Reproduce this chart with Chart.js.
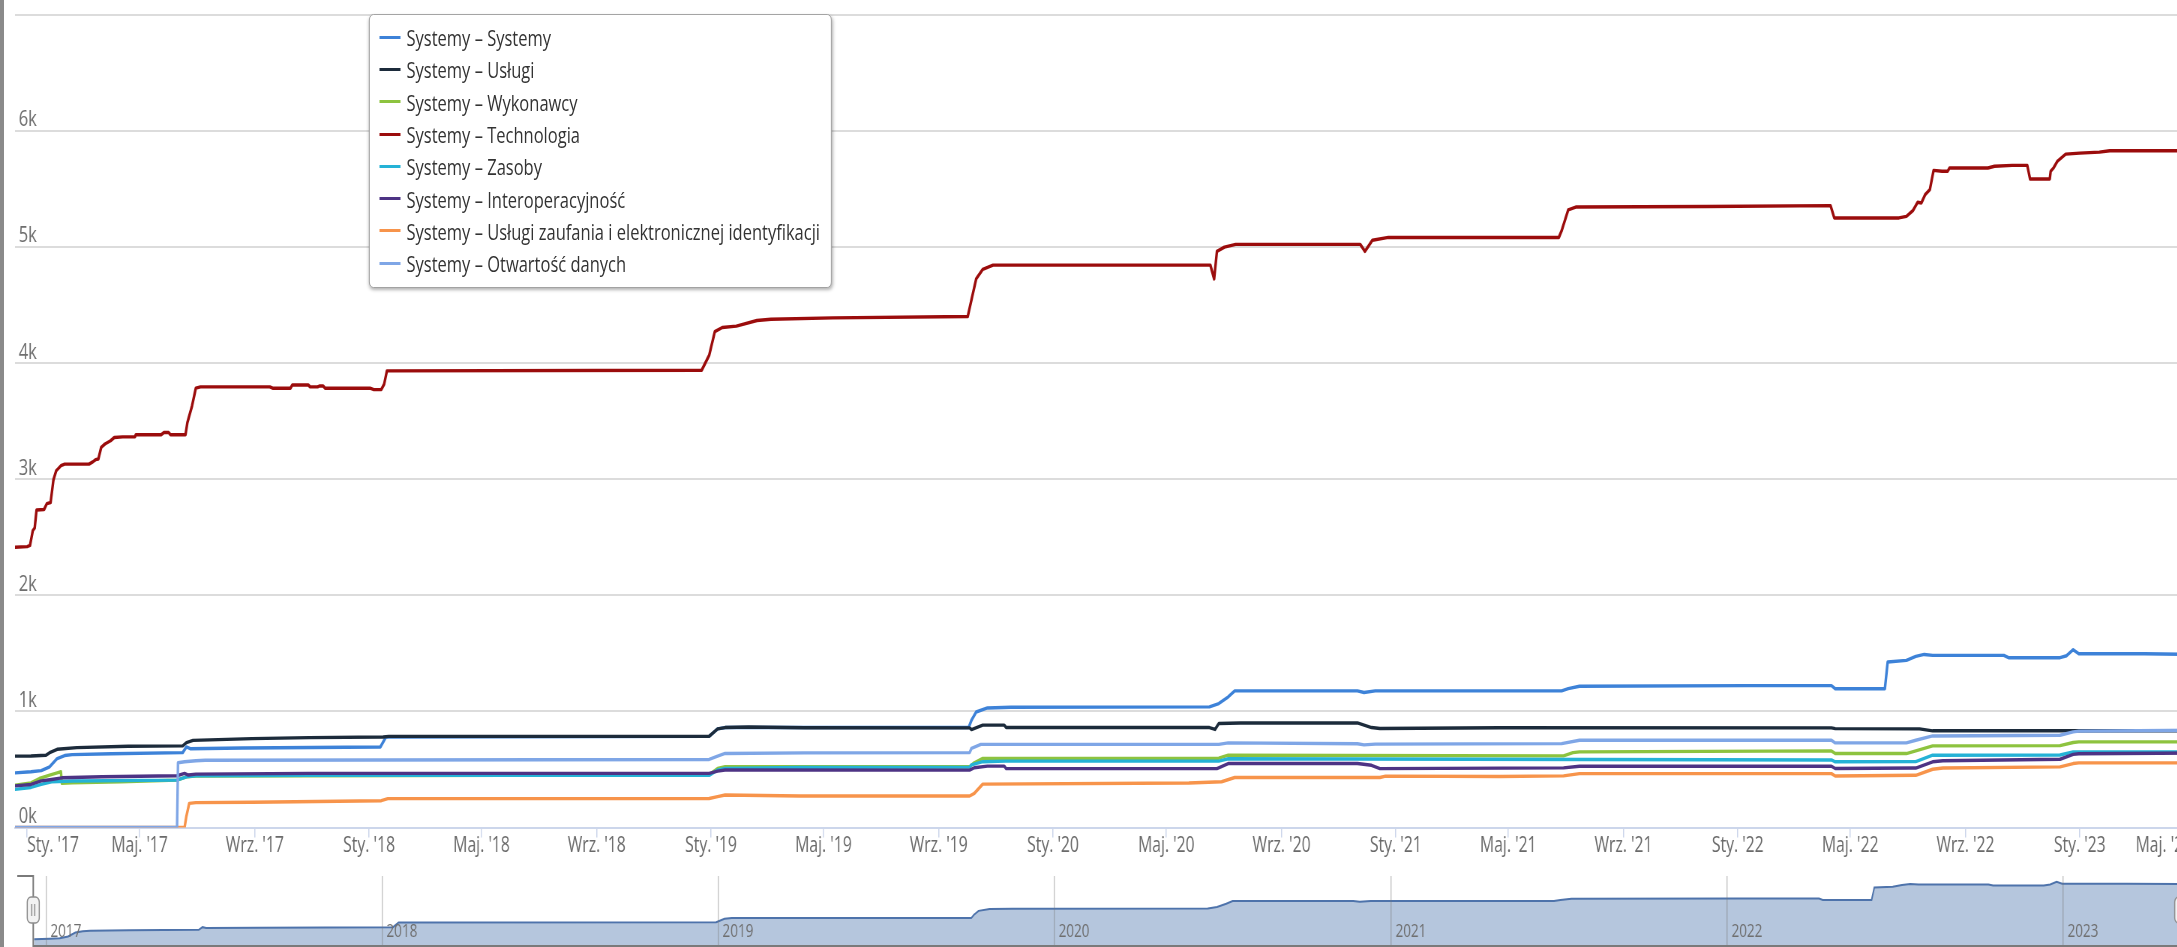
<!DOCTYPE html>
<html lang="pl">
<head>
<meta charset="utf-8">
<title>Systemy</title>
<script src="https://cdn.jsdelivr.net/npm/chart.js@4.4.1/dist/chart.umd.min.js"></script>
<style>
  html, body { margin: 0; padding: 0; background: #fff; overflow: hidden; }
  body { width: 2177px; height: 947px; position: relative; }
  /* the original screenshot is squeezed horizontally, so the whole stage is too */
  #stage { position: absolute; left: 0; top: 0; height: 947px; transform-origin: 0 0; }
  #mainBox { position: absolute; left: 0; top: 0; width: 100%; height: 875px; }
  #navBox { position: absolute; left: 0; top: 875px; width: 100%; height: 72px; }
  #legend {
    position: absolute; left: 492px; top: 14px; width: 617px; height: 274px;
    box-sizing: border-box; padding-top: 6px;
    background: #fff; border: 1px solid #9a9a9a; border-radius: 6px;
    box-shadow: 1px 2px 4px rgba(0, 0, 0, 0.3);
    font: 22px 'Open Sans', 'DejaVu Sans', sans-serif; color: #333;
  }
  #legend .item { height: 32.3px; display: flex; align-items: center; white-space: nowrap; }
  #legend .sym { display: inline-block; width: 28px; height: 3px; margin-left: 13px; margin-right: 8px; }
  #edge { position: absolute; left: 0; top: 0; width: 4px; height: 947px; background: #8a8a8a; }
</style>
</head>
<body>
<div id="stage">
  <div id="mainBox"><canvas id="main"></canvas></div>
  <div id="navBox"><canvas id="nav"></canvas></div>
  <div id="legend"></div>
</div>
<div id="edge"></div>
<script>
const seriesNames = [
  'Systemy – Systemy',
  'Systemy – Usługi',
  'Systemy – Wykonawcy',
  'Systemy – Technologia',
  'Systemy – Zasoby',
  'Systemy – Interoperacyjność',
  'Systemy – Usługi zaufania i elektronicznej identyfikacji',
  'Systemy – Otwartość danych'
];
const seriesColors = ['#3d82d8', '#1c2b3b', '#8dc33f', '#9b0c0c', '#25b2d6', '#4d3384', '#f7944b', '#7fa6e6'];

// [date, value]
const systemy = [
  ['2016-12-19', 471], ['2017-01-05', 480], ['2017-01-16', 490], ['2017-01-25', 523], ['2017-02-02', 594],
  ['2017-02-10', 620], ['2017-02-18', 628], ['2017-04-01', 636], ['2017-06-16', 645], ['2017-06-20', 694],
  ['2017-06-24', 679], ['2017-08-19', 685], ['2018-01-13', 694], ['2018-01-19', 780], ['2018-12-30', 785],
  ['2019-01-08', 850], ['2019-01-16', 861], ['2019-10-03', 861], ['2019-10-06', 924], ['2019-10-11', 995],
  ['2019-10-23', 1030], ['2019-11-17', 1036], ['2020-06-16', 1039], ['2020-06-26', 1068], ['2020-07-06', 1125],
  ['2020-07-13', 1177], ['2020-11-21', 1177], ['2020-11-28', 1163], ['2020-12-10', 1177], ['2021-06-27', 1177],
  ['2021-07-04', 1196], ['2021-07-16', 1217], ['2022-01-11', 1222], ['2022-04-11', 1222], ['2022-04-15', 1196],
  ['2022-06-07', 1196], ['2022-06-10', 1426], ['2022-06-30', 1440], ['2022-07-10', 1474], ['2022-07-19', 1491],
  ['2022-07-28', 1483], ['2022-10-12', 1483], ['2022-10-17', 1463], ['2022-12-11', 1463], ['2022-12-18', 1480],
  ['2022-12-25', 1532], ['2022-12-31', 1497], ['2023-03-11', 1497], ['2023-05-08', 1491]
];
const uslugi = [
  ['2016-12-19', 615], ['2017-01-05', 616], ['2017-01-21', 622], ['2017-01-25', 645], ['2017-02-02', 674],
  ['2017-02-23', 688], ['2017-04-19', 700], ['2017-06-16', 703], ['2017-06-20', 731], ['2017-06-27', 751],
  ['2017-08-29', 766], ['2017-10-29', 774], ['2018-01-16', 780], ['2018-01-22', 785], ['2018-12-30', 786],
  ['2019-01-08', 850], ['2019-01-16', 861], ['2019-02-10', 866], ['2019-04-11', 860], ['2019-10-04', 858],
  ['2019-10-06', 844], ['2019-10-18', 882], ['2019-11-10', 882], ['2019-11-12', 861], ['2020-06-16', 861],
  ['2020-06-22', 845], ['2020-06-26', 896], ['2020-07-19', 901], ['2020-11-21', 901], ['2020-12-06', 861],
  ['2020-12-15', 853], ['2021-04-22', 860], ['2022-04-11', 858], ['2022-04-15', 852], ['2022-07-14', 850],
  ['2022-07-28', 833], ['2023-05-08', 833]
];
const wykonawcy = [
  ['2016-12-19', 365], ['2017-01-05', 385], ['2017-01-14', 422], ['2017-01-25', 451], ['2017-02-02', 471],
  ['2017-02-06', 480], ['2017-02-07', 380], ['2017-02-18', 385], ['2017-04-11', 394], ['2017-06-10', 408],
  ['2017-06-20', 437], ['2017-06-30', 443], ['2018-12-30', 455], ['2019-01-08', 509], ['2019-01-16', 524],
  ['2019-10-04', 524], ['2019-10-09', 558], ['2019-10-18', 595], ['2020-06-26', 597], ['2020-07-06', 623],
  ['2021-06-29', 617], ['2021-07-09', 645], ['2021-07-16', 652], ['2022-04-11', 660], ['2022-04-15', 637],
  ['2022-06-30', 637], ['2022-07-10', 660], ['2022-07-28', 703], ['2022-12-11', 705], ['2022-12-25', 732],
  ['2022-12-31', 738], ['2023-05-08', 738]
];
const technologia = [
  ['2016-12-19', 2414], ['2017-01-01', 2420], ['2017-01-04', 2430], ['2017-01-07', 2558], ['2017-01-09', 2580],
  ['2017-01-11', 2736], ['2017-01-19', 2740], ['2017-01-22', 2790], ['2017-01-26', 2800], ['2017-01-29', 2994],
  ['2017-02-01', 3074], ['2017-02-06', 3117], ['2017-02-10', 3131], ['2017-03-08', 3131], ['2017-03-12', 3150],
  ['2017-03-15', 3169], ['2017-03-18', 3175], ['2017-03-21', 3275], ['2017-03-25', 3304], ['2017-03-31', 3332],
  ['2017-04-04', 3360], ['2017-04-13', 3366], ['2017-04-26', 3366], ['2017-04-27', 3384], ['2017-05-24', 3384],
  ['2017-05-27', 3403], ['2017-06-01', 3403], ['2017-06-03', 3384], ['2017-06-19', 3384], ['2017-06-21', 3489],
  ['2017-06-26', 3633], ['2017-06-30', 3785], ['2017-07-05', 3796], ['2017-09-17', 3796], ['2017-09-20', 3785],
  ['2017-10-09', 3785], ['2017-10-11', 3813], ['2017-10-28', 3813], ['2017-10-30', 3796], ['2017-11-07', 3796],
  ['2017-11-09', 3804], ['2017-11-13', 3804], ['2017-11-15', 3785], ['2018-01-02', 3785], ['2018-01-06', 3773],
  ['2018-01-14', 3773], ['2018-01-17', 3818], ['2018-01-20', 3934], ['2018-12-22', 3940], ['2018-12-30', 4069],
  ['2019-01-05', 4272], ['2019-01-13', 4308], ['2019-01-28', 4320], ['2019-02-19', 4368], ['2019-03-06', 4379],
  ['2019-05-11', 4391], ['2019-10-02', 4403], ['2019-10-06', 4547], ['2019-10-11', 4726], ['2019-10-18', 4809],
  ['2019-10-29', 4845], ['2020-06-17', 4845], ['2020-06-21', 4726], ['2020-06-24', 4964], ['2020-07-02', 5000],
  ['2020-07-14', 5024], ['2020-11-24', 5024], ['2020-11-29', 4964], ['2020-12-07', 5060], ['2020-12-24', 5084],
  ['2021-06-24', 5084], ['2021-06-27', 5143], ['2021-07-04', 5322], ['2021-07-12', 5346], ['2021-11-29', 5350],
  ['2022-04-10', 5358], ['2022-04-14', 5252], ['2022-06-22', 5252], ['2022-06-30', 5266], ['2022-07-07', 5316],
  ['2022-07-12', 5387], ['2022-07-16', 5381], ['2022-07-20', 5453], ['2022-07-25', 5496], ['2022-07-29', 5662],
  ['2022-08-07', 5654], ['2022-08-13', 5654], ['2022-08-15', 5682], ['2022-09-25', 5682], ['2022-10-02', 5697],
  ['2022-10-21', 5705], ['2022-11-06', 5705], ['2022-11-09', 5587], ['2022-11-30', 5587], ['2022-12-01', 5654],
  ['2022-12-04', 5682], ['2022-12-08', 5739], ['2022-12-17', 5802], ['2023-01-01', 5810], ['2023-01-22', 5819],
  ['2023-02-02', 5831], ['2023-05-08', 5831]
];
const zasoby = [
  ['2016-12-19', 328], ['2017-01-05', 345], ['2017-01-16', 371], ['2017-01-27', 394], ['2017-02-18', 400],
  ['2017-06-10', 408], ['2017-06-20', 437], ['2017-06-30', 446], ['2017-10-28', 449], ['2018-12-30', 449],
  ['2019-01-08', 495], ['2019-01-16', 509], ['2019-04-06', 518], ['2019-10-04', 520], ['2019-10-06', 540],
  ['2019-10-18', 567], ['2019-11-11', 572], ['2020-06-26', 572], ['2020-07-06', 592], ['2022-04-11', 582],
  ['2022-04-15', 566], ['2022-07-10', 568], ['2022-07-28', 623], ['2022-12-11', 625], ['2022-12-25', 652],
  ['2023-05-08', 652]
];
const interoperacyjnosc = [
  ['2016-12-19', 359], ['2017-01-05', 371], ['2017-01-16', 402], ['2017-01-27', 414], ['2017-02-07', 428],
  ['2017-03-22', 437], ['2017-06-10', 446], ['2017-06-18', 466], ['2017-06-22', 452], ['2017-06-30', 460],
  ['2017-10-28', 466], ['2018-12-30', 466], ['2019-01-08', 486], ['2019-01-16', 495], ['2019-10-04', 494],
  ['2019-10-09', 515], ['2019-10-23', 529], ['2019-11-10', 529], ['2019-11-12', 507], ['2020-06-24', 507],
  ['2020-07-06', 551], ['2020-11-21', 551], ['2020-12-06', 536], ['2020-12-15', 507], ['2021-06-29', 514],
  ['2021-07-16', 528], ['2022-04-11', 528], ['2022-04-15', 508], ['2022-07-10', 512], ['2022-07-28', 566],
  ['2022-08-08', 575], ['2022-12-11', 588], ['2022-12-25', 630], ['2022-12-31', 636], ['2023-05-08', 642]
];
const uslugiZaufania = [
  ['2016-12-19', 0], ['2017-06-18', 0], ['2017-06-20', 100], ['2017-06-23', 208], ['2017-06-30', 214],
  ['2017-08-29', 217], ['2018-01-14', 231], ['2018-01-21', 249], ['2018-12-30', 250], ['2019-01-08', 266],
  ['2019-01-16', 280], ['2019-04-06', 272], ['2019-10-04', 271], ['2019-10-09', 294], ['2019-10-18', 374],
  ['2020-05-25', 384], ['2020-06-29', 394], ['2020-07-13', 431], ['2020-12-15', 431], ['2020-12-21', 443],
  ['2021-04-22', 440], ['2021-06-29', 445], ['2021-07-16', 464], ['2022-04-11', 464], ['2022-04-15', 444],
  ['2022-07-10', 450], ['2022-07-28', 502], ['2022-08-08', 513], ['2022-12-11', 522], ['2022-12-25', 551],
  ['2022-12-31', 557], ['2023-05-08', 557]
];
const otwartosc = [
  ['2016-12-19', 0], ['2017-06-10', 0], ['2017-06-11', 558], ['2017-06-18', 567], ['2017-06-30', 575],
  ['2017-07-10', 580], ['2018-12-30', 586], ['2019-01-08', 615], ['2019-01-16', 638], ['2019-04-11', 643],
  ['2019-10-04', 645], ['2019-10-06', 681], ['2019-10-16', 716], ['2020-06-26', 716], ['2020-07-06', 729],
  ['2020-11-21', 722], ['2020-11-28', 712], ['2020-12-10', 718], ['2021-06-27', 723], ['2021-07-16', 752],
  ['2022-04-11', 752], ['2022-04-15', 729], ['2022-06-30', 729], ['2022-07-10', 752], ['2022-07-28', 789],
  ['2022-12-11', 795], ['2022-12-25', 824], ['2022-12-31', 830], ['2023-05-08', 838]
];
const allSeries = [systemy, uslugi, wykonawcy, technologia, zasoby, interoperacyjnosc, uslugiZaufania, otwartosc];

const monthNames = ['Sty.', 'Lut.', 'Mar.', 'Kwi.', 'Maj.', 'Cze.', 'Lip.', 'Sie.', 'Wrz.', 'Paź.', 'Lis.', 'Gru.'];
const tickMonths = [0, 4, 8];
const tickYears = [2017, 2018, 2019, 2020, 2021, 2022, 2023];
const yTicks = [0, 1000, 2000, 3000, 4000, 5000, 6000, 7000];

const S = 0.75;        // horizontal squeeze
const FULL_W = 2200;   // width of the chart before the right side got cropped
const stageW = FULL_W / S;
const stage = document.getElementById('stage');
stage.style.width = stageW + 'px';
stage.style.transform = 'scaleX(' + S + ')';

const toPoints = pairs => pairs.map(([d, v]) => ({ x: Date.parse(d), y: v }));
const xMin = Math.min(...allSeries.map(s => Date.parse(s[0][0])));
const xMax = Math.max(...allSeries.map(s => Date.parse(s[s.length - 1][0])));

const monthTicks = [];
tickYears.forEach(y => tickMonths.forEach(m => {
  const t = Date.UTC(y, m, 1);
  if (t >= xMin && t <= xMax) monthTicks.push(t);
}));
const yearTicks = tickYears.map(y => Date.UTC(y, 0, 1));

function monthLabel(v) {
  const d = new Date(v);
  return monthNames[d.getUTCMonth()] + " '" + String(d.getUTCFullYear()).slice(2);
}

Chart.defaults.font.family = "'Open Sans', 'DejaVu Sans', sans-serif";
Chart.defaults.animation = false;

// Main chart
new Chart(document.getElementById('main'), {
  type: 'line',
  data: {
    datasets: allSeries.map((s, i) => ({
      label: seriesNames[i],
      data: toPoints(s),
      borderColor: seriesColors[i],
      backgroundColor: seriesColors[i],
      borderWidth: 3.4,
      pointRadius: 0,
      tension: 0,
      fill: false,
      order: -i,
      borderJoinStyle: 'round',
      borderCapStyle: 'round'
    }))
  },
  options: {
    responsive: true,
    maintainAspectRatio: false,
    events: [],
    layout: { padding: { left: 15 / S, right: 0, top: 0, bottom: 0 } },
    plugins: { legend: { display: false }, tooltip: { enabled: false } },
    scales: {
      x: {
        type: 'linear',
        min: xMin,
        max: xMax,
        afterBuildTicks: scale => { scale.ticks = monthTicks.map(v => ({ value: v })); },
        afterFit: scale => { scale.height = 47.5; scale.paddingLeft = 0; scale.paddingRight = 0; },
        ticks: {
          autoSkip: false, maxRotation: 0, minRotation: 0, align: 'inner',
          padding: -4.5, color: '#6a6a6a', font: { size: 21 },
          callback: v => monthLabel(v)
        },
        grid: { drawOnChartArea: false, drawTicks: true, tickLength: 10, color: '#ccd6eb', lineWidth: 1.5 },
        border: { display: true, color: '#ccd6eb', width: 2 }
      },
      y: {
        min: 0,
        max: 7115,
        afterBuildTicks: scale => { scale.ticks = yTicks.map(v => ({ value: v })); },
        afterFit: scale => { scale.width = 0; scale.paddingTop = 0; scale.paddingBottom = 0; },
        ticks: {
          mirror: true, padding: 5, labelOffset: -11, color: '#6e6e6e', font: { size: 22 },
          callback: v => (v === 7000 ? '' : (v / 1000) + 'k')
        },
        grid: {
          drawTicks: false, lineWidth: 2,
          color: ctx => (ctx.tick && ctx.tick.value === 0 ? 'rgba(0,0,0,0)' : '#dcdcdc')
        },
        border: { display: false }
      }
    }
  }
});

// Navigator outline + handles
const navFrame = {
  id: 'navFrame',
  afterDraw(chart) {
    const { ctx, chartArea: a } = chart;
    const xl = a.left - 1, xr = a.right + 1, top = 1, bot = a.bottom + 1;
    ctx.save();
    ctx.strokeStyle = '#7a7a7a';
    ctx.lineWidth = 2;
    ctx.beginPath();
    ctx.moveTo(xl - 16 / S, top);
    ctx.lineTo(xl, top);
    ctx.lineTo(xl, bot);
    ctx.lineTo(xr, bot);
    ctx.lineTo(xr, top);
    ctx.lineTo(xr + 16 / S, top);
    ctx.stroke();
    [xl, xr].forEach(x => {
      const w = 12 / S, h = 26, y = 22;
      ctx.beginPath();
      ctx.roundRect(x - w / 2, y, w, h, 5);
      ctx.fillStyle = '#f2f2f2';
      ctx.fill();
      ctx.strokeStyle = '#8c8c8c';
      ctx.lineWidth = 1.5;
      ctx.stroke();
      ctx.beginPath();
      ctx.moveTo(x - 1.5 / S, y + 7); ctx.lineTo(x - 1.5 / S, y + h - 7);
      ctx.moveTo(x + 1.5 / S, y + 7); ctx.lineTo(x + 1.5 / S, y + h - 7);
      ctx.stroke();
    });
    ctx.restore();
  }
};

const navVals = systemy.map(p => p[1]);
const navLo = Math.min(...navVals), navHi = Math.max(...navVals);
const navPad = (navHi - navLo) * 0.1;

new Chart(document.getElementById('nav'), {
  type: 'line',
  data: {
    datasets: [{
      data: toPoints(systemy),
      borderColor: '#4e73ab',
      backgroundColor: '#b5c6dd',
      borderWidth: 2,
      pointRadius: 0,
      tension: 0,
      fill: 'start'
    }]
  },
  options: {
    responsive: true,
    maintainAspectRatio: false,
    events: [],
    layout: { padding: { left: 34 / S, right: (FULL_W - 2180) / S, top: 0, bottom: 2 } },
    plugins: { legend: { display: false }, tooltip: { enabled: false } },
    scales: {
      x: {
        type: 'linear',
        min: xMin,
        max: xMax,
        afterBuildTicks: scale => { scale.ticks = yearTicks.map(v => ({ value: v })); },
        afterFit: scale => { scale.height = 0; scale.paddingLeft = 0; scale.paddingRight = 0; },
        ticks: {
          z: 2, mirror: true, autoSkip: false, maxRotation: 0, minRotation: 0, align: 'start',
          labelOffset: 6, padding: 2.7, color: '#6f6f6f', font: { size: 18 },
          callback: v => String(new Date(v).getUTCFullYear())
        },
        grid: { z: 1, drawTicks: false, color: 'rgba(120,120,120,0.45)', lineWidth: 1.4 },
        border: { display: false }
      },
      y: { display: false, min: navLo - navPad, max: navHi + navPad }
    }
  },
  plugins: [navFrame]
});

// Legend
const legend = document.getElementById('legend');
seriesNames.forEach((name, i) => {
  const row = document.createElement('div');
  row.className = 'item';
  const sym = document.createElement('span');
  sym.className = 'sym';
  sym.style.background = seriesColors[i];
  const txt = document.createElement('span');
  txt.textContent = name;
  row.append(sym, txt);
  legend.append(row);
});
</script>
</body>
</html>
